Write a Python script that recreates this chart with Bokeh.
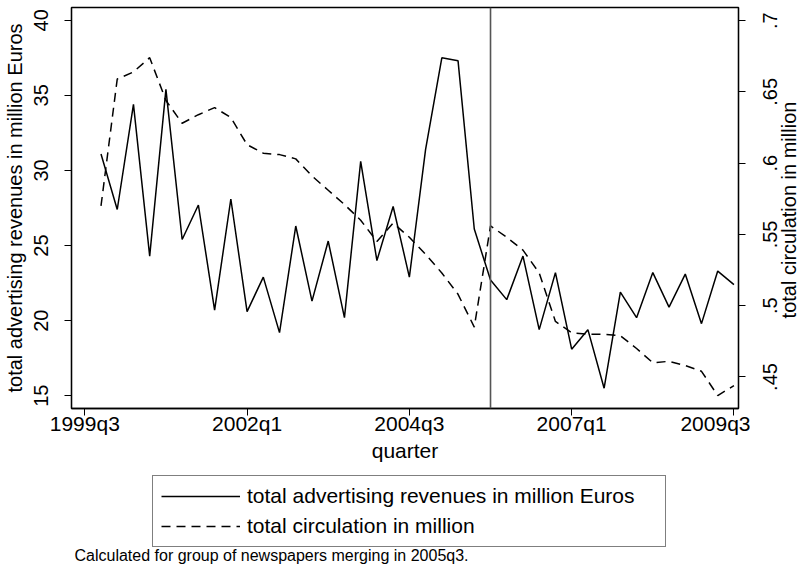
import math
from bokeh.plotting import figure
from bokeh.layouts import column, row
from bokeh.core.properties import value
from bokeh.models import (Range1d, LinearAxis, FixedTicker, CustomJSTickFormatter,
                          Span, Legend, LegendItem, Label)
from bokeh.embed import file_html
from bokeh.resources import INLINE

# ---------------- data ----------------
quarters = ["1999q4",
            "2000q1", "2000q2", "2000q3", "2000q4",
            "2001q1", "2001q2", "2001q3", "2001q4",
            "2002q1", "2002q2", "2002q3", "2002q4",
            "2003q1", "2003q2", "2003q3", "2003q4",
            "2004q1", "2004q2", "2004q3", "2004q4",
            "2005q1", "2005q2", "2005q3", "2005q4",
            "2006q1", "2006q2", "2006q3", "2006q4",
            "2007q1", "2007q2", "2007q3", "2007q4",
            "2008q1", "2008q2", "2008q3", "2008q4",
            "2009q1", "2009q2", "2009q3"]

revenues = [31.1, 27.4, 34.4, 24.3, 35.4, 25.4, 27.7, 20.7, 28.1, 20.6,
            22.9, 19.2, 26.3, 21.3, 25.3, 20.2, 30.6, 24.0, 27.6, 22.9,
            31.4, 37.5, 37.3, 26.1, 22.7, 21.4, 24.3, 19.4, 23.2, 18.1,
            19.4, 15.5, 21.9, 20.2, 23.2, 20.9, 23.1, 19.8, 23.3, 22.4]

circulation = [0.570, 0.659, 0.664, 0.674, 0.644, 0.628, 0.634, 0.639, 0.632, 0.613,
               0.607, 0.606, 0.603, 0.591, 0.581, 0.571, 0.560, 0.545, 0.558, 0.548,
               0.536, 0.523, 0.508, 0.485, 0.556, 0.548, 0.539, 0.523, 0.489, 0.481,
               0.480, 0.480, 0.479, 0.470, 0.460, 0.461, 0.458, 0.454, 0.437, 0.444]

x_tick_labels = ["1999q3", "2002q1", "2004q3", "2007q1", "2009q3"]
left_ticks = [15, 20, 25, 30, 35, 40]
right_ticks = [0.45, 0.50, 0.55, 0.60, 0.65, 0.70]
right_tick_labels = [".45", ".5", ".55", ".6", ".65", ".7"]
event_quarter = "2005q4"

series_labels = ["total advertising revenues in million Euros",
                 "total circulation in million"]
note_text = "Calculated for group of newspapers merging in 2005q3."


def qindex(s):
    # quarters counted from 1999q3
    y, q = s.split("q")
    return (int(y) - 1999) * 4 + int(q) - 3


xs = [qindex(q) for q in quarters]
xtick_pos = [qindex(q) for q in x_tick_labels]

FONT = "Liberation Sans"
CIRC_RANGE = (0.4279, 0.7092)

# ---------------- main chart ----------------
p = figure(width=750, height=470,
           x_range=Range1d(-0.818, 40.28),
           y_range=Range1d(14.15, 40.85),
           output_backend="svg", toolbar_location=None,
           min_border_left=70, min_border_right=12,
           min_border_top=7, min_border_bottom=62)
p.extra_y_ranges = {"circ": Range1d(*CIRC_RANGE)}

p.xgrid.visible = False
p.ygrid.visible = False
p.outline_line_color = "black"
p.outline_line_width = 1.3
p.background_fill_color = "white"
p.border_fill_color = "white"

xa = p.xaxis[0]
xa.ticker = FixedTicker(ticks=xtick_pos)
xa.major_label_overrides = {t: l for t, l in zip(xtick_pos, x_tick_labels)}
xa.axis_label = "quarter"

ya = p.yaxis[0]
ya.ticker = FixedTicker(ticks=left_ticks)
ya.axis_label = series_labels[0]
ya.major_label_orientation = "vertical"

# right axis: tick marks here, its labels are drawn in the strip to the right
ra = LinearAxis(y_range_name="circ", ticker=FixedTicker(ticks=right_ticks),
                formatter=CustomJSTickFormatter(code="return '';"))
p.add_layout(ra, "right")

for ax in (xa, ya, ra):
    ax.minor_tick_line_color = None
    ax.major_tick_in = 0
    ax.major_tick_out = 7
    ax.major_tick_line_color = "black"
    ax.axis_line_color = "black"
    ax.axis_line_width = 1.3
    ax.major_label_text_font = FONT
    ax.major_label_text_color = "black"
    ax.axis_label_text_font = FONT
    ax.axis_label_text_color = "black"
    ax.axis_label_text_font_style = "normal"

xa.major_label_text_font_size = "21px"
xa.axis_label_text_font_size = "21px"
xa.major_label_standoff = -4
xa.axis_label_standoff = 1
ya.major_label_text_font_size = "20px"
ya.axis_label_text_font_size = "20px"
ya.major_label_standoff = 16
ya.axis_label_standoff = 6
ra.major_label_text_font_size = "1px"
ra.major_label_standoff = 0

r1 = p.line(xs, revenues, line_color="black", line_width=1.5)
r2 = p.line(xs, circulation, y_range_name="circ", line_color="black",
            line_width=1.5, line_dash="9 6")

p.add_layout(Span(location=qindex(event_quarter), dimension="height",
                  line_color="#555555", line_width=1.6))

# ---------------- right strip: tick labels + axis title (read bottom to top) ----------------
rt = figure(width=53, height=470, x_range=Range1d(750, 803), y_range=Range1d(*CIRC_RANGE),
            output_backend="svg", toolbar_location=None,
            x_axis_location=None, y_axis_location=None,
            min_border_left=0, min_border_right=0, min_border_top=7, min_border_bottom=62)
rt.grid.visible = False
rt.outline_line_color = None
rt.background_fill_color = "white"
rt.border_fill_color = "white"
rt.text(x=[769] * len(right_ticks), y=right_ticks, text=right_tick_labels,
        angle=math.pi / 2, text_align="center", text_baseline="alphabetic",
        text_font=value(FONT), text_font_size=value("20px"), text_color="black")
rt.add_layout(Label(x=788, y=198.5, x_units="data", y_units="screen",
                    text=series_labels[1], angle=math.pi / 2,
                    text_align="center", text_baseline="alphabetic",
                    text_font=FONT, text_font_size="20px", text_color="black"))

# ---------------- legend + note strip ----------------
q = figure(width=803, height=108, x_range=Range1d(100, 903), y_range=Range1d(100, 208),
           output_backend="svg", toolbar_location=None,
           x_axis_location=None, y_axis_location=None,
           min_border_left=0, min_border_right=0, min_border_top=0, min_border_bottom=0)
q.grid.visible = False
q.outline_line_color = None
q.background_fill_color = "white"
q.border_fill_color = "white"

# legend keys (same series, outside this strip's visible range)
k1 = q.line(xs, revenues, line_color="black", line_width=1.5)
k2 = q.line(xs, circulation, line_color="black", line_width=1.5, line_dash="9 6")

legend = Legend(items=[LegendItem(label=series_labels[0], renderers=[k1]),
                       LegendItem(label=series_labels[1], renderers=[k2])],
                location=(152, 31), orientation="vertical",
                border_line_color="black", border_line_width=1,
                background_fill_color="white", background_fill_alpha=1,
                padding=8, spacing=6, margin=0,
                glyph_width=79, glyph_height=24, label_height=24, label_width=410,
                label_standoff=7, label_text_font=FONT, label_text_font_size="21px",
                label_text_color="black")
q.add_layout(legend, "center")

q.add_layout(Label(x=74, y=23, x_units="screen", y_units="screen", text=note_text,
                   text_font=FONT, text_font_size="16px", text_baseline="middle",
                   text_color="black"))

layout = column(row(p, rt, spacing=0), q, spacing=0)
open("out.html", "w").write(file_html(layout, INLINE))
